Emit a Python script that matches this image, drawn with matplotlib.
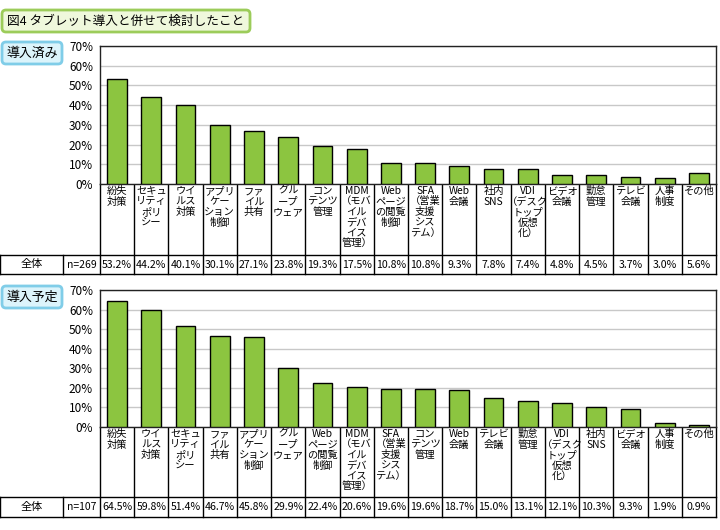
import matplotlib
matplotlib.use("Agg")
import matplotlib.pyplot as plt
from matplotlib.patches import FancyBboxPatch

plt.rcParams['font.family'] = ['Noto Sans CJK JP', 'DejaVu Sans']

title = "図4 タブレット導入と併せて検討したこと"

# 導入済み
labels_done = ["紛失\n対策", "セキュ\nリティ\nポリ\nシー", "ウイ\nルス\n対策", "アプリ\nケー\nション\n制御",
               "ファ\nイル\n共有", "グル\nープ\nウェア", "コン\nテンツ\n管理",
               "MDM\n（モバ\nイル\nデバ\nイス\n管理）", "Web\nページ\nの閲覧\n制御",
               "SFA\n（営業\n支援\nシス\nテム）", "Web\n会議", "社内\nSNS",
               "VDI\n（デスク\nトップ\n仮想\n化）", "ビデオ\n会議", "勤怠\n管理", "テレビ\n会議",
               "人事\n制度", "その他"]
values_done = [53.2, 44.2, 40.1, 30.1, 27.1, 23.8, 19.3, 17.5, 10.8, 10.8, 9.3, 7.8, 7.4, 4.8, 4.5, 3.7, 3.0, 5.6]
n_done = 269

# 導入予定
labels_plan = ["紛失\n対策", "ウイ\nルス\n対策", "セキュ\nリティ\nポリ\nシー", "ファ\nイル\n共有",
               "アプリ\nケー\nション\n制御", "グル\nープ\nウェア", "Web\nページ\nの閲覧\n制御",
               "MDM\n（モバ\nイル\nデバ\nイス\n管理）", "SFA\n（営業\n支援\nシス\nテム）",
               "コン\nテンツ\n管理", "Web\n会議", "テレビ\n会議", "勤怠\n管理",
               "VDI\n（デスク\nトップ\n仮想\n化）", "社内\nSNS", "ビデオ\n会議", "人事\n制度", "その他"]
values_plan = [64.5, 59.8, 51.4, 46.7, 45.8, 29.9, 22.4, 20.6, 19.6, 19.6, 18.7, 15.0, 13.1, 12.1, 10.3, 9.3, 1.9, 0.9]
n_plan = 107

yticks = [0, 10, 20, 30, 40, 50, 60, 70]

W, H = 720, 530
BAR_GREEN = "#8cc540"

fig = plt.figure(figsize=(7.2, 5.3), dpi=100)
bg = fig.add_axes([0, 0, 1, 1])
bg.set_xlim(0, W)
bg.set_ylim(H, 0)
bg.axis("off")


def fig_rect(x0, y0, x1, y1):
    return [x0 / W, 1 - y1 / H, (x1 - x0) / W, (y1 - y0) / H]


def label_box(x0, y0, x1, y1, text, face, edge, size):
    box = FancyBboxPatch((x0, y0), x1 - x0, y1 - y0, boxstyle="round,pad=0,rounding_size=4",
                         fc=face, ec=edge, lw=2)
    bg.add_patch(box)
    bg.text((x0 + x1) / 2, (y0 + y1) / 2, text, ha="center", va="center", fontsize=size)


label_box(2, 10, 250, 32, title, "#eff8dc", "#9ccc5a", 9.1)


def panel(top, bottom, head_bottom, row_bottom, labels, values, n, tag):
    label_box(2, top - 4, 62, top + 18, tag, "#dcf4fb", "#80cde8", 9.3)
    ax = fig.add_axes(fig_rect(100, top, 716, bottom))
    x = range(len(values))
    ax.bar(x, values, width=0.58, color=BAR_GREEN, edgecolor="black", linewidth=1, zorder=3)
    ax.set_xlim(-0.5, len(values) - 0.5)
    ax.set_ylim(0, 70)
    ax.set_yticks(yticks)
    ax.set_yticklabels([f"{t}%" for t in yticks], fontsize=8.5)
    ax.tick_params(axis="y", length=0, pad=5)
    ax.set_xticks([])
    ax.grid(axis="y", color="#c8c8c8", lw=1, zorder=0)
    for s in ax.spines.values():
        s.set_color("#222222")
        s.set_linewidth(1)
    nb = FancyBboxPatch((665, top + 10), 48, 21, boxstyle="round,pad=0,rounding_size=4",
                        fc="white", ec="#c0c0c0", lw=1.5, zorder=5)
    bg.add_patch(nb)
    bg.text(689, top + 20.5, f"n={n}", ha="center", va="center", fontsize=8.5, zorder=6)

    # table below the bars
    colw = (716 - 100) / len(values)
    lw = 1
    for i in range(len(values) + 1):
        xx = 100 + i * colw
        bg.plot([xx, xx], [bottom, row_bottom], color="black", lw=lw)
    for xx in (0, 63):
        bg.plot([xx, xx], [head_bottom, row_bottom], color="black", lw=lw)
    bg.plot([0, 716], [head_bottom, head_bottom], color="black", lw=lw)
    bg.plot([0, 716], [row_bottom, row_bottom], color="black", lw=lw)
    mid = (head_bottom + row_bottom) / 2
    bg.text(31.5, mid, "全体", ha="center", va="center", fontsize=8)
    bg.text(81.5, mid, f"n={n}", ha="center", va="center", fontsize=7.5)
    for i, (lab, v) in enumerate(zip(labels, values)):
        cx = 100 + (i + 0.5) * colw
        bg.text(cx, bottom + 2, lab, ha="center", va="top", fontsize=7.4, linespacing=1.06)
        bg.text(cx, mid, f"{v:.1f}%", ha="center", va="center", fontsize=7.6)


panel(46, 184, 255, 274, labels_done, values_done, n_done, "導入済み")
panel(290, 427, 497, 517, labels_plan, values_plan, n_plan, "導入予定")

fig.savefig("out.png", dpi=100)
